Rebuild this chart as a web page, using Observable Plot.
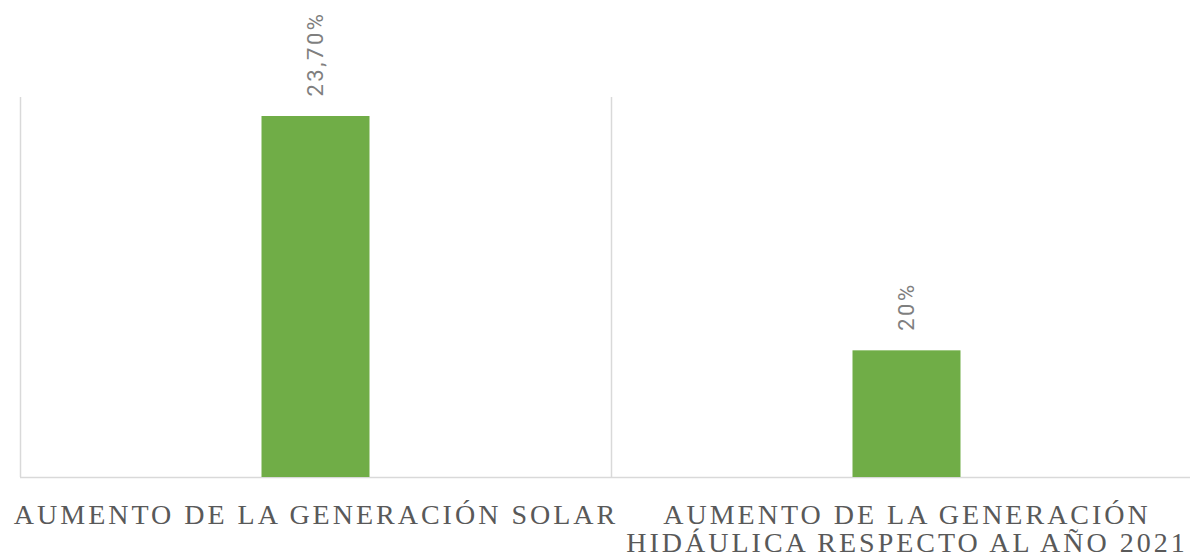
<!DOCTYPE html>
<html>
<head>
<meta charset="utf-8">
<script src="https://cdn.jsdelivr.net/npm/d3@7"></script>
<script src="https://cdn.jsdelivr.net/npm/@observablehq/plot@0.6"></script>
<style>
  html, body { margin: 0; padding: 0; background: #ffffff; }
  #chart svg { display: block; }
</style>
</head>
<body>
<div id="chart"></div>
<script>
const categories = ["solar", "hidro"];
const categoryLabels = [
  "AUMENTO DE LA GENERACIÓN SOLAR",
  "AUMENTO DE LA GENERACIÓN\nHIDÁULICA RESPECTO AL AÑO 2021"
];
const values = [23.7, 20];
const valueLabels = ["23,70%", "20%"];
const yDomain = [18, 24];

const data = categories.map((c, i) => ({
  cat: c, name: categoryLabels[i], value: values[i], label: valueLabels[i]
}));

const chart = Plot.plot({
  width: 1190,
  height: 557,
  marginTop: 97,
  marginBottom: 80,
  marginLeft: 20,
  marginRight: 0,
  style: { background: "#ffffff" },
  x: { domain: categories, range: [20, 1202], padding: 0, axis: null },
  y: { domain: yDomain, axis: null },
  marks: [
    Plot.ruleX(categories, { x: d => d, dx: -295.5, stroke: "#d9d9d9", strokeWidth: 1.5 }),
    Plot.ruleY([yDomain[0]], { stroke: "#d9d9d9", strokeWidth: 1.5 }),
    Plot.barY(data, { x: "cat", y1: yDomain[0], y2: "value", fill: "#70ad47", insetLeft: 241.5, insetRight: 241.5 }),
    Plot.text(data, { x: "cat", y: "value", text: "label", rotate: -90, textAnchor: "start", dy: -20,
      fontSize: 22, fontFamily: "Roboto", fill: "#7f7f7f" }),
    Plot.text(data, { x: "cat", y: yDomain[0], text: "name", lineAnchor: "top", dy: 27,
      fontSize: 28, fontFamily: "Liberation Serif", fill: "#595959", lineHeight: 1.0 })
  ]
});

const groups = chart.querySelectorAll('g[aria-label="text"]');
if (groups[0]) groups[0].style.letterSpacing = "2.5px";
if (groups[1]) groups[1].style.letterSpacing = "3px";
document.getElementById("chart").appendChild(chart);
</script>
</body>
</html>
